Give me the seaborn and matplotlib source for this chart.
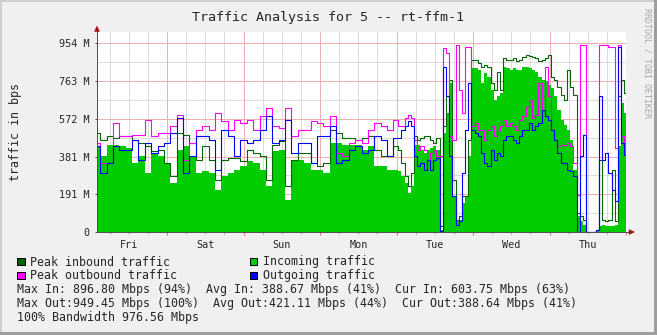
import numpy as np
import matplotlib
matplotlib.use("Agg")
import matplotlib.pyplot as plt
import seaborn as sns
from matplotlib.lines import Line2D
from matplotlib.patches import Rectangle, Polygon

W, H = 657, 335

# ---------------- data (Mbps, hours since Friday 00:00) ----------------
hours_fri_mon = list(range(2, 96, 2))      # 2-hour samples
hours_tue_thu = list(range(96, 169))       # hourly samples
hours = np.array(hours_fri_mon + hours_tue_thu, dtype=float)

incoming = [
    433, 382, 441, 441, 433, 424, 348, 382, 298, 399, 382, 348, 247, 416, 433, 382,
    298, 306, 298, 214, 281, 298, 315, 332, 357, 348, 315, 231, 407, 416, 163, 365,
    365, 348, 315, 315, 298, 449, 449, 441, 441, 441, 416, 433, 332, 332, 315,
    315, 306, 281, 247, 197, 231, 441, 441, 416, 399, 416, 424, 433, 416, 12, 500,
    601, 752, 180, 54, 62, 146, 180, 382, 828, 828, 820, 752, 803, 786, 719, 668,
    685, 702, 836, 828, 820, 828, 820, 820, 836, 836, 828, 820, 811, 786, 769, 761,
    744, 727, 685, 618, 567, 542, 517, 466, 315, 79, 54, 37, 0, 0, 0, 12,
    29, 37, 29, 29, 29, 37, 433, 651, 604,
]
peak_in = [
    500, 466, 483, 475, 483, 483, 466, 449, 433, 407, 416, 348, 281, 500, 491, 449,
    365, 433, 365, 264, 365, 374, 374, 357, 416, 399, 382, 264, 441, 458, 231, 365,
    399, 399, 348, 332, 348, 517, 500, 475, 475, 466, 475, 483, 416, 382, 382,
    433, 416, 348, 281, 231, 298, 483, 466, 475, 483, 483, 466, 449, 475, 29, 534,
    685, 769, 264, 62, 79, 180, 180, 466, 870, 870, 853, 836, 845, 836, 752, 719,
    811, 719, 879, 870, 870, 879, 862, 870, 887, 895, 890, 887, 879, 862, 870, 879,
    895, 786, 769, 735, 693, 668, 820, 735, 693, 96, 79, 62, 0, 0, 0, 12,
    365, 62, 54, 62, 315, 54, 685, 769, 702,
]
peak_out = [
    449, 348, 348, 550, 483, 483, 491, 491, 567, 483, 500, 500, 534, 592, 365, 449,
    517, 534, 517, 601, 559, 517, 567, 550, 567, 517, 584, 626, 534, 525, 626, 483,
    517, 517, 559, 550, 534, 584, 399, 382, 449, 466, 449, 517, 550, 534, 517,
    567, 534, 534, 576, 592, 576, 466, 416, 433, 416, 365, 399, 416, 382, 382, 929,
    904, 483, 466, 946, 719, 601, 937, 937, 534, 550, 517, 517, 466, 517, 534, 483,
    517, 534, 567, 534, 550, 534, 517, 567, 584, 634, 668, 576, 592, 752, 618, 836,
    685, 517, 466, 433, 441, 441, 449, 433, 348, 188, 946, 946, 0, 0, 0, 12,
    946, 946, 946, 937, 937, 424, 946, 483, 449,
]
outgoing = [
    433, 298, 348, 433, 416, 416, 466, 365, 449, 399, 433, 449, 500, 576, 298, 382,
    483, 483, 466, 315, 517, 483, 382, 466, 449, 466, 517, 584, 449, 466, 567, 399,
    449, 449, 348, 483, 483, 534, 348, 365, 416, 433, 399, 416, 483, 466, 382,
    475, 475, 517, 534, 559, 534, 382, 332, 348, 315, 365, 315, 365, 374, 3, 836,
    685, 382, 180, 37, 54, 298, 517, 752, 517, 500, 483, 399, 348, 332, 416, 365,
    399, 382, 466, 483, 483, 466, 449, 483, 517, 517, 550, 517, 534, 550, 618, 584,
    567, 517, 466, 399, 348, 348, 315, 306, 281, 0, 382, 491, 0, 0, 0, 12,
    685, 365, 399, 298, 214, 155, 937, 449, 389,
]

day_labels = ["Fri", "Sat", "Sun", "Mon", "Tue", "Wed", "Thu"]
ytick_labels = ["0", "191 M", "381 M", "572 M", "763 M", "954 M"]
ytick_step = 190.73

title = "Traffic Analysis for 5 -- rt-ffm-1"
legend_entries = [
    ("Peak inbound traffic", "#006600"),
    ("Incoming traffic", "#00CC00"),
    ("Peak outbound traffic", "#FF00FF"),
    ("Outgoing traffic", "#0000FF"),
]
stats_lines = [
    "Max In: 896.80 Mbps (94%)  Avg In: 388.67 Mbps (41%)  Cur In: 603.75 Mbps (63%)",
    "Max Out:949.45 Mbps (100%)  Avg Out:421.11 Mbps (44%)  Cur Out:388.64 Mbps (41%)",
    "100% Bandwidth 976.56 Mbps",
]

# ---------------- style ----------------
sns.set_style("white")
plt.rcParams["font.family"] = ["DejaVu Sans Mono", "DejaVu Sans"]
PX = 0.72  # one pixel in points

fig = plt.figure(figsize=(W / 100, H / 100), dpi=100, facecolor="#F0F0F0")


def fx(x):
    return x / W


def fy(y):
    return 1 - y / H


def prect(x0, y0, x1, y1, fc, ec="none", lw=0, z=5):
    fig.add_artist(Rectangle((fx(x0), fy(y1)), (x1 - x0) / W, (y1 - y0) / H,
                             transform=fig.transFigure, facecolor=fc,
                             edgecolor=ec, linewidth=lw, zorder=z))


# frame shading
prect(0, 0, W, 2, "#CFCFCF")
prect(0, 0, 2, H, "#CFCFCF")
prect(W - 3, 0, W, H, "#9E9E9E")
prect(0, H - 3, W, H, "#9E9E9E")

# ---------------- plot area ----------------
x0p, x1p, y0p, y1p = 97, 626, 32, 232
ax = fig.add_axes([fx(x0p), fy(y1p), (x1p - x0p) / W, (y1p - y0p) / H])
ax.set_facecolor("white")
for s in ax.spines.values():
    s.set_visible(False)

ax.set_xlim(2, 168)
ax.set_ylim(0, 1011)

# grid
for h in range(6, 169, 6):
    if h % 24:
        ax.axvline(h, color="#DCDCDC", lw=PX, zorder=0.5)
for h in range(24, 169, 24):
    ax.axvline(h, color="#EBB0B0", lw=PX, zorder=0.6)
for k in range(1, 11):
    v = k * ytick_step / 2
    ax.axhline(v, color="#EBB0B0" if k % 2 == 0 else "#DCDCDC", lw=PX,
               zorder=0.6 if k % 2 == 0 else 0.5)

# data
ax.fill_between(hours, incoming, step="mid", color="#00CC00", lw=0, zorder=2)
sns.lineplot(x=hours, y=peak_in, ax=ax, color="#006600", lw=0.8,
             drawstyle="steps-mid", errorbar=None, zorder=3)
sns.lineplot(x=hours, y=peak_out, ax=ax, color="#FF00FF", lw=0.8,
             drawstyle="steps-mid", errorbar=None, zorder=4)
sns.lineplot(x=hours, y=outgoing, ax=ax, color="#0000FF", lw=0.8,
             drawstyle="steps-mid", errorbar=None, zorder=5)

# ticks
ax.set_xticks(range(24, 169, 24))
ax.set_xticks(range(6, 169, 6), minor=True)
ax.tick_params(axis="x", which="major", length=3 * PX, width=PX, color="#E07070",
               labelbottom=False, bottom=True, direction="out")
ax.tick_params(axis="x", which="minor", length=2 * PX, width=PX, color="#A0A0A0",
               bottom=True, direction="out")
ax.set_yticks([k * ytick_step for k in range(len(ytick_labels))])
ax.set_yticklabels(ytick_labels)
ax.tick_params(axis="y", which="major", length=2 * PX, width=PX, color="#505050",
               labelsize=7.3, pad=3.6, left=True, direction="out")
ax.set_xlabel("")
ax.set_ylabel("")

for i, d in enumerate(day_labels):
    ax.text(12 + 24 * i, -(248 - 232) / 200, d, transform=ax.get_xaxis_transform(),
            ha="center", va="baseline", fontsize=7.3)

# axis lines and arrows
axis_col = "#505050"
arrow_col = "#A01010"
fig.add_artist(Line2D([fx(97), fx(630)], [fy(232), fy(232)], color=axis_col,
                      lw=PX, transform=fig.transFigure, zorder=10))
fig.add_artist(Line2D([fx(97), fx(97)], [fy(232), fy(29)], color=axis_col,
                      lw=PX, transform=fig.transFigure, zorder=10))
fig.add_artist(Polygon([(fx(629), fy(229.5)), (fx(634.5), fy(232)), (fx(629), fy(234.5))],
                       closed=True, transform=fig.transFigure, facecolor=arrow_col,
                       edgecolor=arrow_col, lw=0.3, zorder=11))
fig.add_artist(Polygon([(fx(94.5), fy(31.5)), (fx(97), fy(26)), (fx(99.5), fy(31.5))],
                       closed=True, transform=fig.transFigure, facecolor=arrow_col,
                       edgecolor=arrow_col, lw=0.3, zorder=11))

# ---------------- texts ----------------
fig.text(fx(328.5), fy(20.5), title, ha="center", va="baseline", fontsize=9.6)
fig.text(fx(16), fy(132), "traffic in bps", rotation=90, ha="center", va="center",
         fontsize=8.4)
fig.text(fx(647), fy(8), "RRDTOOL / TOBI OETIKER", rotation=270, ha="center",
         va="top", fontsize=6, color="#A8A8A8")

# legend
row_base = [265.5, 279.3]
col_x = [17, 249.5]
for i, (lab, col) in enumerate(legend_entries):
    r, c = divmod(i, 2)
    yb = row_base[r]
    prect(col_x[c], yb - 7.7, col_x[c] + 7.5, yb - 0.2, col, ec="black", lw=PX, z=6)
    fig.text(fx(col_x[c] + 13.3), fy(yb), lab, ha="left", va="baseline", fontsize=8.4)

for j, line in enumerate(stats_lines):
    fig.text(fx(16.8), fy(293.5 + 14 * j), line, ha="left", va="baseline", fontsize=8.4)

fig.savefig("out.png", dpi=100, facecolor=fig.get_facecolor())
